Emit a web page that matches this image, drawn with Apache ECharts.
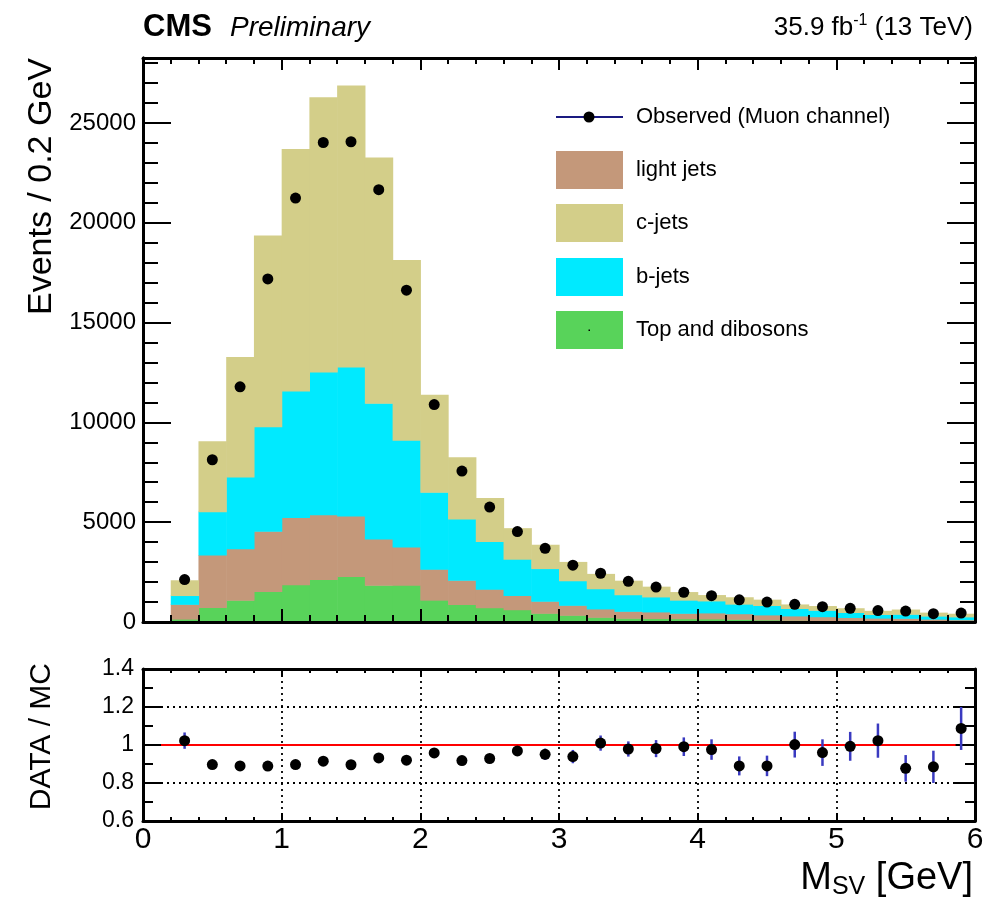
<!DOCTYPE html>
<html>
<head>
<meta charset="utf-8">
<title>M_SV distribution</title>
<script src="https://cdn.jsdelivr.net/npm/echarts/dist/echarts.min.js"></script>
<style>
  html, body { margin: 0; padding: 0; background: #fff; }
  #chart { width: 987px; height: 898px; }
</style>
</head>
<body>
<div id="chart"></div>
<script>
// Secondary-vertex mass, 0.2 GeV bins (bin centres)
const massCenters = [0.3, 0.5, 0.7, 0.9, 1.1, 1.3, 1.5, 1.7, 1.9, 2.1,
                     2.3, 2.5, 2.7, 2.9, 3.1, 3.3, 3.5, 3.7, 3.9, 4.1,
                     4.3, 4.5, 4.7, 4.9, 5.1, 5.3, 5.5, 5.7, 5.9];
const binWidth = 0.2;

// Simulated contributions per bin (events / 0.2 GeV)
const topDibosons = [150, 730, 1090, 1530, 1870, 2130, 2290, 1840, 1850, 1100,
                     880, 720, 620, 440, 340, 240, 190, 180, 170, 160,
                     140, 110, 90, 80, 70, 60, 60, 50, 40];
const lightJets   = [740, 2630, 2580, 3020, 3370, 3250, 3020, 2320, 1910, 1550,
                     1210, 930, 710, 600, 500, 420, 350, 330, 270, 300,
                     280, 250, 220, 190, 160, 140, 130, 100, 80];
const bJets       = [440, 2170, 3600, 5230, 6340, 7150, 7470, 6800, 5350, 3850,
                     3080, 2390, 1820, 1640, 1230, 1010, 830, 750, 660, 600,
                     480, 470, 370, 320, 250, 180, 200, 150, 140];
const cJets       = [760, 3520, 6000, 9580, 12110, 13760, 14090, 12300, 9020, 4880,
                     3080, 2170, 1550, 1190, 940, 740, 700, 510, 400, 290,
                     340, 290, 200, 210, 210, 180, 235, 170, 155];

// Observed events (muon channel)
const observed = [2127, 8127, 11782, 17182, 21236, 24018, 24055, 21655, 16618, 10891,
                  7561, 5759, 4530, 3688, 2846, 2442, 2038, 1751, 1490, 1317,
                  1110, 1000, 883, 767, 683, 575, 550, 417, 450];

// Data / MC ratio and its uncertainty
const ratio = [1.023, 0.897, 0.890, 0.889, 0.897, 0.915, 0.896, 0.932, 0.920, 0.958,
               0.918, 0.929, 0.969, 0.951, 0.939, 1.010, 0.979, 0.981, 0.991, 0.976,
               0.890, 0.890, 1.002, 0.960, 0.993, 1.023, 0.877, 0.885, 1.087];
const ratioErr = [0.043, 0.010, 0.010, 0.010, 0.008, 0.008, 0.008, 0.008, 0.010, 0.012,
                  0.014, 0.016, 0.020, 0.030, 0.035, 0.040, 0.040, 0.045, 0.049, 0.054,
                  0.050, 0.054, 0.068, 0.070, 0.076, 0.090, 0.070, 0.085, 0.113];

// Unity reference line in the ratio panel
const unityLine = [[0.13, 1], [5.86, 1]];

const FONT = '"Liberation Sans", Arial, Helvetica, sans-serif';

// Stack order, bottom to top
const components = [
  { name: 'Top and dibosons', values: topDibosons, color: '#58d35a' },
  { name: 'light jets',       values: lightJets,   color: '#c4987a' },
  { name: 'b-jets',           values: bJets,       color: '#00eaff' },
  { name: 'c-jets',           values: cJets,       color: '#d3ce89' }
];

const runningBase = massCenters.map(() => 0);
const stackSeries = components.map((comp) => {
  const data = massCenters.map((c, i) => {
    const lo = runningBase[i];
    const hi = lo + comp.values[i];
    runningBase[i] = hi;
    return [c, lo, hi];
  });
  return {
    name: comp.name,
    type: 'custom',
    xAxisIndex: 0,
    yAxisIndex: 0,
    clip: true,
    itemStyle: { color: comp.color },
    encode: { x: 0, y: [1, 2] },
    data: data,
    z: 2,
    renderItem: function (params, api) {
      const c = api.value(0), lo = api.value(1), hi = api.value(2);
      const p0 = api.coord([c - binWidth / 2, hi]);
      const p1 = api.coord([c + binWidth / 2, lo]);
      return {
        type: 'rect',
        shape: { x: p0[0], y: p0[1], width: p1[0] - p0[0] + 0.6, height: p1[1] - p0[1] + 0.6 },
        style: { fill: comp.color }
      };
    }
  };
});

const observedData = massCenters.map((c, i) => [c, observed[i]]);
const ratioData = massCenters.map((c, i) => [c, ratio[i]]);
const ratioErrData = massCenters.map((c, i) => [c, ratio[i] - ratioErr[i], ratio[i] + ratioErr[i]]);

const black = '#000';

function xAxisDef(grid, pos, opts) {
  return Object.assign({
    type: 'value', gridIndex: grid, position: pos, min: 0, max: 6, interval: 1, z: 10,
    axisLine: { show: true, onZero: false, lineStyle: { color: black, width: 3 } },
    axisTick: { show: true, inside: true, length: 12, lineStyle: { color: black, width: 2 } },
    minorTick: { show: true, splitNumber: 5, length: 6, lineStyle: { color: black, width: 2 } },
    axisLabel: { show: false },
    splitLine: { show: false }
  }, opts || {});
}

function yAxisDef(grid, pos, opts) {
  return Object.assign({
    type: 'value', gridIndex: grid, position: pos, z: 10,
    axisLine: { show: true, onZero: false, lineStyle: { color: black, width: 3 } },
    axisTick: { show: true, inside: true, length: 28, lineStyle: { color: black, width: 2 } },
    axisLabel: { show: false },
    splitLine: { show: false }
  }, opts || {});
}

const dotted = { show: true, lineStyle: { color: black, width: 1.8, type: [2, 4] } };
const plainNumber = (v) => String(v);

const option = {
  animation: false,
  backgroundColor: '#fff',
  textStyle: { fontFamily: FONT },
  grid: [
    { left: 143, top: 58, width: 832, height: 564 },
    { left: 143, top: 669, width: 832, height: 152 }
  ],
  xAxis: [
    xAxisDef(0, 'bottom', { axisTick: { show: true, inside: true, length: 13, lineStyle: { color: black, width: 2 } },
                            minorTick: { show: true, splitNumber: 5, length: 7, lineStyle: { color: black, width: 2 } } }),
    xAxisDef(0, 'top'),
    xAxisDef(1, 'bottom', {
      axisTick: { show: true, inside: true, length: 8, lineStyle: { color: black, width: 2 } },
      minorTick: { show: true, splitNumber: 5, length: 4, lineStyle: { color: black, width: 2 } },
      axisLabel: { show: true, fontSize: 30, color: black, margin: 4, fontFamily: FONT, formatter: plainNumber },
      splitLine: dotted
    }),
    xAxisDef(1, 'top', {
      axisTick: { show: true, inside: true, length: 8, lineStyle: { color: black, width: 2 } },
      minorTick: { show: true, splitNumber: 5, length: 4, lineStyle: { color: black, width: 2 } }
    })
  ],
  yAxis: [
    // main panel: labelled major ticks (left)
    yAxisDef(0, 'left', { min: 0, max: 28250, interval: 5000,
      axisLabel: { show: true, fontSize: 24, color: black, margin: 7, showMaxLabel: false, fontFamily: FONT, formatter: plainNumber } }),
    // main panel: minor ticks (left)
    yAxisDef(0, 'left', { min: 0, max: 28250, interval: 1000,
      axisTick: { show: true, inside: true, length: 15, lineStyle: { color: black, width: 2 } } }),
    // main panel: right side
    yAxisDef(0, 'right', { min: 0, max: 28250, interval: 5000 }),
    yAxisDef(0, 'right', { min: 0, max: 28250, interval: 1000,
      axisTick: { show: true, inside: true, length: 15, lineStyle: { color: black, width: 2 } } }),
    // ratio panel
    yAxisDef(1, 'left', { min: 0.6, max: 1.4, interval: 0.2,
      axisTick: { show: true, inside: true, length: 20, lineStyle: { color: black, width: 2 } },
      minorTick: { show: true, splitNumber: 2, length: 10, lineStyle: { color: black, width: 2 } },
      axisLabel: { show: true, fontSize: 23, color: black, margin: 9, fontFamily: FONT },
      splitLine: dotted }),
    yAxisDef(1, 'right', { min: 0.6, max: 1.4, interval: 0.2,
      axisTick: { show: true, inside: true, length: 20, lineStyle: { color: black, width: 2 } },
      minorTick: { show: true, splitNumber: 2, length: 10, lineStyle: { color: black, width: 2 } } })
  ],
  series: stackSeries.concat([
    {
      name: 'Observed (Muon channel)',
      type: 'scatter',
      xAxisIndex: 0, yAxisIndex: 0,
      symbol: 'circle', symbolSize: 11,
      itemStyle: { color: black, opacity: 1 },
      data: observedData,
      z: 13
    },
    {
      name: 'unity',
      type: 'line',
      xAxisIndex: 2, yAxisIndex: 4,
      symbol: 'none',
      lineStyle: { color: '#ff0000', width: 2 },
      data: unityLine,
      z: 11
    },
    {
      name: 'ratio error',
      type: 'custom',
      xAxisIndex: 2, yAxisIndex: 4,
      encode: { x: 0, y: [1, 2] },
      data: ratioErrData,
      z: 12,
      renderItem: function (params, api) {
        const x = api.value(0);
        const a = api.coord([x, api.value(1)]);
        const b = api.coord([x, api.value(2)]);
        return {
          type: 'line',
          shape: { x1: a[0], y1: a[1], x2: b[0], y2: b[1] },
          style: { stroke: '#3a3ac0', lineWidth: 2.5 }
        };
      }
    },
    {
      name: 'ratio',
      type: 'scatter',
      xAxisIndex: 2, yAxisIndex: 4,
      symbol: 'circle', symbolSize: 11,
      itemStyle: { color: black, opacity: 1 },
      data: ratioData,
      z: 13
    }
  ]),
  graphic: [
    // header
    { type: 'text', x: 143, y: 27, style: { text: 'CMS', font: 'bold 31px ' + FONT, fill: black, verticalAlign: 'middle' } },
    { type: 'text', x: 230, y: 28, style: { text: 'Preliminary', font: 'italic 28px ' + FONT, fill: black, verticalAlign: 'middle' } },
    { type: 'text', x: 973, y: 28, style: {
        text: '{n|35.9 fb}{s|-1}{n| (13 TeV)}', align: 'right', verticalAlign: 'middle',
        rich: {
          n: { fontSize: 26, fontFamily: FONT, fill: black, lineHeight: 30, verticalAlign: 'middle' },
          s: { fontSize: 16, fontFamily: FONT, fill: black, lineHeight: 16, verticalAlign: 'top' }
        } } },
    // axis titles
    { type: 'text', x: 42, y: 58, rotation: Math.PI / 2, style: {
        text: 'Events / 0.2 GeV', font: '34px ' + FONT, fill: black, align: 'right', verticalAlign: 'middle' } },
    { type: 'text', x: 42, y: 663, rotation: Math.PI / 2, style: {
        text: 'DATA / MC', font: '30px ' + FONT, fill: black, align: 'right', verticalAlign: 'middle' } },
    { type: 'text', x: 973, y: 900, style: {
        text: '{m|M}{s|SV}{m| [GeV]}', align: 'right', verticalAlign: 'bottom',
        rich: {
          m: { fontSize: 38, fontFamily: FONT, fill: black, lineHeight: 40, verticalAlign: 'top' },
          s: { fontSize: 25, fontFamily: FONT, fill: black, lineHeight: 25, padding: [26, 0, 0, 0], verticalAlign: 'bottom' }
        } } },
    // legend
    { type: 'line', shape: { x1: 556, y1: 117, x2: 623, y2: 117 }, style: { stroke: '#1a1a80', lineWidth: 2 } },
    { type: 'circle', shape: { cx: 589, cy: 117, r: 5.5 }, style: { fill: black } },
    { type: 'text', x: 636, y: 117, style: { text: 'Observed (Muon channel)', font: '22px ' + FONT, fill: black, verticalAlign: 'middle' } },
    { type: 'rect', shape: { x: 556, y: 151, width: 67, height: 38 }, style: { fill: '#c4987a' } },
    { type: 'text', x: 636, y: 170, style: { text: 'light jets', font: '22px ' + FONT, fill: black, verticalAlign: 'middle' } },
    { type: 'rect', shape: { x: 556, y: 204, width: 67, height: 38 }, style: { fill: '#d3ce89' } },
    { type: 'text', x: 636, y: 223, style: { text: 'c-jets', font: '22px ' + FONT, fill: black, verticalAlign: 'middle' } },
    { type: 'rect', shape: { x: 556, y: 258, width: 67, height: 38 }, style: { fill: '#00eaff' } },
    { type: 'text', x: 636, y: 277, style: { text: 'b-jets', font: '22px ' + FONT, fill: black, verticalAlign: 'middle' } },
    { type: 'rect', shape: { x: 556, y: 311, width: 67, height: 38 }, style: { fill: '#58d35a' } },
    { type: 'rect', shape: { x: 588.5, y: 329.5, width: 1.5, height: 1.5 }, style: { fill: black } },
    { type: 'text', x: 636, y: 330, style: { text: 'Top and dibosons', font: '22px ' + FONT, fill: black, verticalAlign: 'middle' } }
  ]
};

const chart = echarts.init(document.getElementById('chart'), null, { renderer: 'canvas' });
chart.setOption(option);
</script>
</body>
</html>
